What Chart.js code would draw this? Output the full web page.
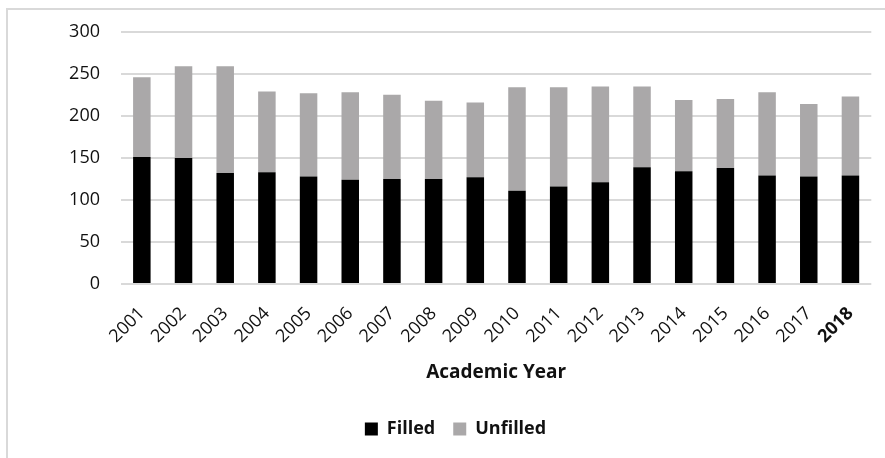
<!DOCTYPE html>
<html>
<head>
<meta charset="utf-8">
<title>Filled and Unfilled by Academic Year</title>
<script src="https://cdn.jsdelivr.net/npm/chart.js@4/dist/chart.umd.min.js"></script>
<style>
  html, body { margin: 0; padding: 0; background: #fff; }
  #wrap { position: relative; width: 885px; height: 458px; }
  #frame {
    position: absolute; left: 6px; top: 8px; right: -4px; bottom: -4px;
    border-left: 2px solid #d9d9d9; border-top: 2px solid #d9d9d9;
  }
  canvas { position: absolute; left: 0; top: 0; }
</style>
</head>
<body>
<div id="wrap">
  <div id="frame"></div>
  <canvas id="chart" width="885" height="458"></canvas>
</div>
<script>
// academic years on the x axis
const years = ['2001', '2002', '2003', '2004', '2005', '2006', '2007', '2008', '2009',
  '2010', '2011', '2012', '2013', '2014', '2015', '2016', '2017', '2018']

// positions filled / left unfilled each year
const filled = [151, 150, 132, 133, 128, 124, 125, 125, 127, 111, 116, 121, 139, 134, 138, 129, 128, 129]
const unfilled = [95, 109, 127, 96, 99, 104, 100, 93, 89, 123, 118, 114, 96, 85, 82, 99, 86, 94]

const yTicks = [0, 50, 100, 150, 200, 250, 300]

const FONT = 'Open Sans'
const TEXT = '#111'

Chart.defaults.font.family = FONT
Chart.defaults.color = TEXT
Chart.defaults.animation = false

// legend sits a little right of the canvas centre
const legendNudge = {
  id: 'legendNudge',
  afterLayout(chart) {
    chart.legend.left += 18
    chart.legend.right += 18
  }
}

new Chart(document.getElementById('chart'), {
  type: 'bar',
  data: {
    labels: years,
    datasets: [
      {
        label: 'Filled',
        data: filled,
        backgroundColor: '#000000',
        categoryPercentage: 1,
        barPercentage: 0.42,
      },
      {
        label: 'Unfilled',
        data: unfilled,
        backgroundColor: '#aaa8a9',
        categoryPercentage: 1,
        barPercentage: 0.42,
      }
    ]
  },
  plugins: [legendNudge],
  options: {
    responsive: false,
    layout: { padding: { top: 22, right: 10, bottom: 10, left: 0 } },
    scales: {
      x: {
        stacked: true,
        grid: { display: false, drawTicks: false },
        border: { display: false },
        afterFit: (scale) => { scale.height = 118 },
        ticks: {
          color: TEXT,
          minRotation: 45,
          maxRotation: 45,
          padding: 19,
          font: (ctx) => ({
            family: FONT,
            size: 18,
            weight: ctx.index === years.length - 1 ? 'bold' : 'normal'
          })
        },
        title: {
          display: true,
          text: 'Academic Year',
          color: TEXT,
          font: { family: FONT, size: 19, weight: 'bold' },
          padding: { top: 4, bottom: 18 }
        }
      },
      y: {
        stacked: true,
        min: 0,
        max: 300,
        afterBuildTicks: (scale) => { scale.ticks = yTicks.map(v => ({ value: v })) },
        afterFit: (scale) => { scale.width = 121 },
        grid: { color: '#d9d9d9', lineWidth: 2, drawTicks: false },
        border: { display: false },
        ticks: {
          color: TEXT,
          padding: 21,
          font: { family: FONT, size: 18 }
        }
      }
    },
    plugins: {
      legend: {
        position: 'bottom',
        labels: {
          color: TEXT,
          boxWidth: 13,
          boxHeight: 13,
          padding: 18,
          font: { family: FONT, size: 18, weight: 'bold' }
        }
      },
      tooltip: { enabled: false }
    }
  }
})
</script>
</body>
</html>
